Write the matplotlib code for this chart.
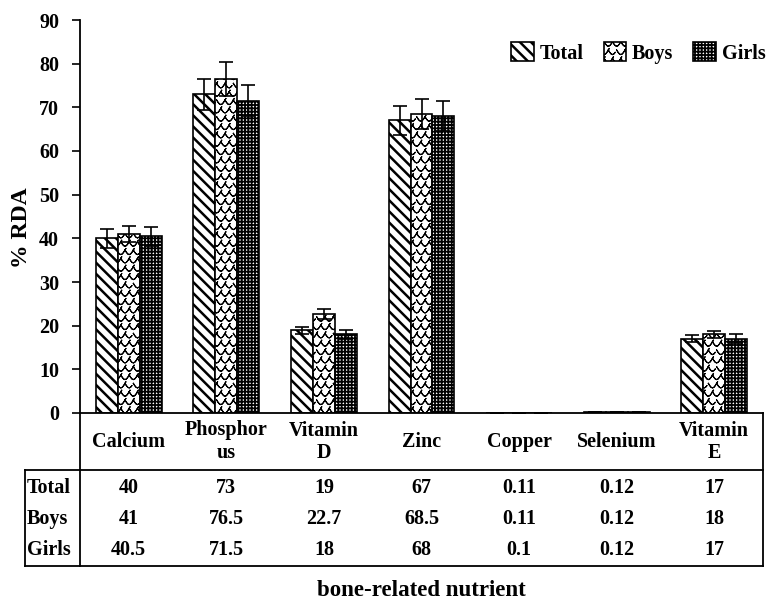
import numpy as np
import matplotlib
matplotlib.use("Agg")
import matplotlib.pyplot as plt
import matplotlib.hatch as mhatch
from matplotlib.lines import Line2D
from matplotlib.patches import Patch

# ---------------- data ----------------
categories = ["Calcium", "Phosphor\nus", "Vitamin\nD", "Zinc", "Copper", "Selenium", "Vitamin\nE"]
series_names = ["Total", "Boys", "Girls"]
total_vals = [40, 73, 19, 67, 0.11, 0.12, 17]
boys_vals = [41, 76.5, 22.7, 68.5, 0.11, 0.12, 18]
girls_vals = [40.5, 71.5, 18, 68, 0.1, 0.12, 17]
total_err = [2.1, 3.5, 0.8, 3.3, 0.0, 0.0, 0.8]
boys_err = [1.9, 3.8, 1.1, 3.5, 0.0, 0.0, 0.8]
girls_err = [2.2, 3.5, 1.0, 3.5, 0.0, 0.0, 1.0]
table_total = ["40", "73", "19", "67", "0.11", "0.12", "17"]
table_boys = ["41", "76.5", "22.7", "68.5", "0.11", "0.12", "18"]
table_girls = ["40.5", "71.5", "18", "68", "0.1", "0.12", "17"]
yticks = [0, 10, 20, 30, 40, 50, 60, 70, 80, 90]


# ---------------- custom "scale" hatch for Boys (zero-area strokes) ----------------
class ScaleHatch(mhatch.HatchPatternBase):
    K = 7

    def __init__(self, hatch, density):
        self.n = int(hatch.count('O') * density)
        if self.n:
            self.rows = self.n + 1
            self.cols = self.n + 2
            self.num_vertices = self.rows * self.cols * (2 * self.K - 1)
        else:
            self.num_vertices = 0

    def set_vertices_and_codes(self, vertices, codes):
        n = self.n
        K = self.K
        t = np.linspace(0, 1, K)
        tt = np.concatenate([t, t[-2::-1]])
        m = len(tt)
        idx = 0
        for r in range(self.rows):
            y0 = r / n
            off = 0.5 * (r % 2)
            for c in range(-1, self.cols - 1):
                x0 = (c + off) / n
                vertices[idx:idx + m, 0] = x0 + tt / n
                vertices[idx:idx + m, 1] = y0 - 0.55 / n * np.sin(np.pi * tt)
                codes[idx] = mhatch.Path.MOVETO
                codes[idx + 1:idx + m] = mhatch.Path.LINETO
                idx += m


mhatch._hatch_types = [h for h in mhatch._hatch_types if h is not mhatch.LargeCircles] + [ScaleHatch]

plt.rcParams['font.family'] = ['Liberation Serif', 'DejaVu Serif']
plt.rcParams['font.weight'] = 'bold'
plt.rcParams['hatch.linewidth'] = 1.3

W, H = 781, 600
fig = plt.figure(figsize=(W / 100, H / 100), dpi=100)
ax_left, ax_right, ax_top, ax_bot = 80, 763, 20, 413
ax = fig.add_axes([ax_left / W, 1 - ax_bot / H, (ax_right - ax_left) / W, (ax_bot - ax_top) / H])

x = np.arange(len(categories))
bw = 0.225
hatches = ['\\\\\\', 'OO', '+++++']
hatch_lws = [1.8, 0.8, 1.3]
vals = [total_vals, boys_vals, girls_vals]
errs = [total_err, boys_err, girls_err]


def set_hlw(p, w):
    try:
        p.set_hatch_linewidth(w)
    except AttributeError:
        pass


for i, (v, e, h, name) in enumerate(zip(vals, errs, hatches, series_names)):
    xi = x + (i - 1) * bw
    bars = ax.bar(xi, v, bw, facecolor='white', edgecolor='black', hatch=h, linewidth=1.2, label=name, zorder=2)
    for b in bars:
        set_hlw(b, hatch_lws[i])
    ax.errorbar(xi, v, yerr=e, fmt='none', ecolor='black', elinewidth=1.2, capsize=5, capthick=1.2, zorder=3)

ax.set_xlim(-0.5, len(categories) - 0.5)
ax.set_ylim(0, 90)
ax.set_yticks(yticks)
ax.set_xticks([])
ax.tick_params(axis='y', direction='out', length=6, width=1.2, labelsize=14.5, pad=9)
for lab in ax.get_yticklabels():
    lab.set_fontweight('bold')
for s in ['top', 'right']:
    ax.spines[s].set_visible(False)
ax.spines['left'].set_linewidth(1.3)
ax.spines['bottom'].set_linewidth(1.3)


def fy(py):
    return (ax_bot - py) / (ax_bot - ax_top)


def fx(px):
    return (px - ax_left) / (ax_right - ax_left)


ax.set_ylabel('% RDA', fontsize=17, fontweight='bold')
ax.yaxis.set_label_coords(fx(32), fy(228))

# legend
handles = []
for h, w in zip(hatches, hatch_lws):
    p = Patch(facecolor='white', edgecolor='black', hatch=h, linewidth=1.2)
    set_hlw(p, w)
    handles.append(p)
leg = ax.legend(handles, series_names, loc='upper right', bbox_to_anchor=(1.03, 0.99), ncol=3, frameon=False,
                prop={'size': 14.5, 'weight': 'bold'}, handlelength=1.1, handleheight=1.1,
                columnspacing=1.0, handletextpad=0.3)
for p, w in zip(leg.get_patches(), hatch_lws):
    set_hlw(p, w)

# ---------------- data table below ----------------
trans = ax.get_xaxis_transform()

lw = 1.3
lines = [
    ([fx(25), 1.0], [fy(470), fy(470)]),
    ([fx(25), 1.0], [fy(566), fy(566)]),
    ([fx(25), fx(25)], [fy(470), fy(566)]),
    ([0, 0], [0, fy(566)]),
    ([1.0, 1.0], [0, fy(566)]),
]
for xs, ys in lines:
    ax.add_line(Line2D(xs, ys, transform=ax.transAxes, color='black', lw=lw, clip_on=False))

for xi, cat in zip(x, categories):
    ax.text(xi, fy(442), cat, transform=trans, ha='center', va='center', fontsize=14.5,
            fontweight='bold', linespacing=1.2)

row_y = [fy(488), fy(519), fy(550)]
for ry, name, row in zip(row_y, series_names, [table_total, table_boys, table_girls]):
    ax.text(fx(27), ry, name, transform=ax.transAxes, ha='left', va='center', fontsize=14.5, fontweight='bold')
    for xi, t in zip(x, row):
        ax.text(xi, ry, t, transform=trans, ha='center', va='center', fontsize=14.5, fontweight='bold')

ax.text(0.5, fy(591), 'bone-related nutrient', transform=ax.transAxes, ha='center', va='center',
        fontsize=16.5, fontweight='bold')

fig.savefig('out.png', dpi=100)
